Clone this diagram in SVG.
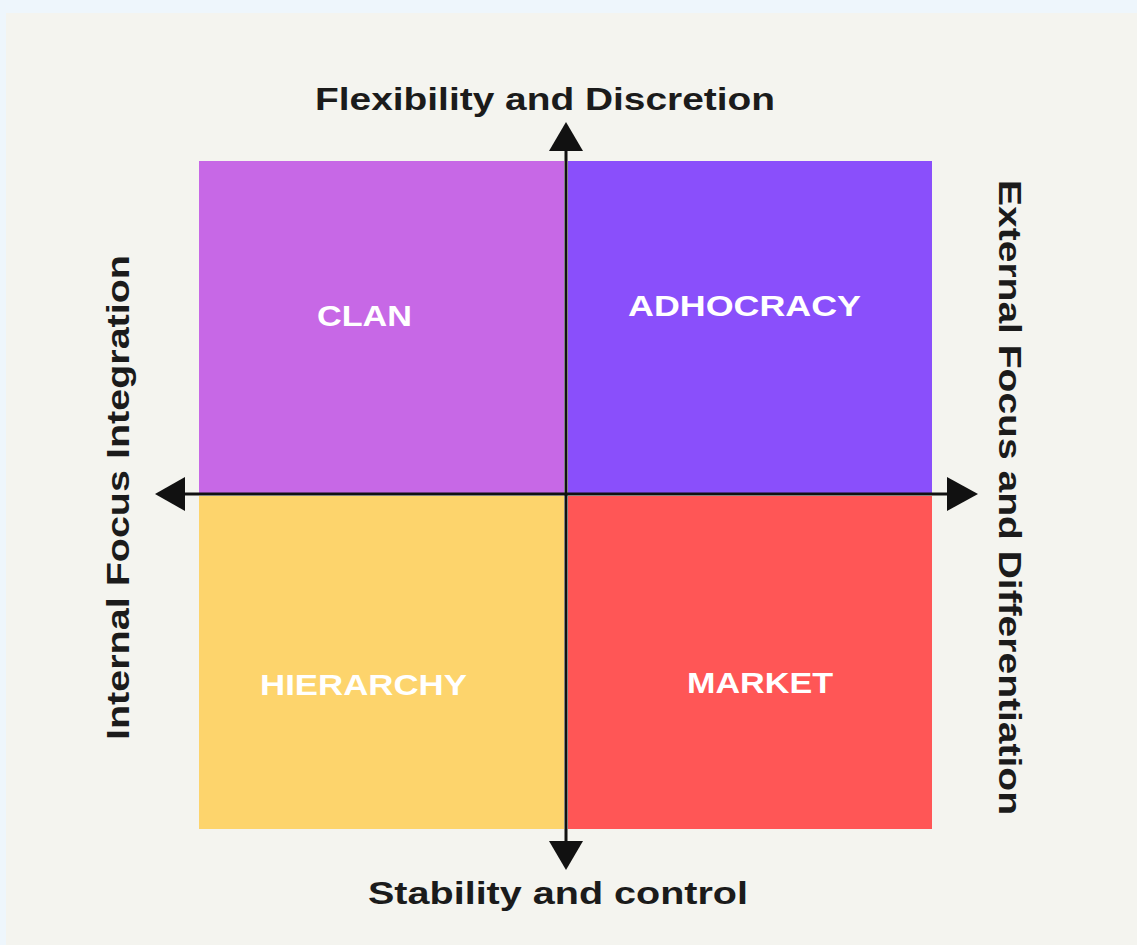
<svg xmlns="http://www.w3.org/2000/svg" width="1137" height="945" viewBox="0 0 1137 945">
  <defs>
    <style>
      .axis { font-family: "Liberation Sans", Arial, sans-serif; font-weight: bold; font-size: 32px; fill: #1b1b1b; }
      .quad { font-family: "Liberation Sans", Arial, sans-serif; font-weight: bold; font-size: 29px; fill: #ffffff; text-anchor: start; }
      .line { stroke: #111111; stroke-width: 3; fill: none; }
      .head { fill: #111111; }
    </style>
  </defs>
  <rect x="0" y="0" width="1137" height="945" fill="#EEF6FC"/>
  <rect x="6" y="13" width="1131" height="932" fill="#F4F4EF"/>

  <g id="clan">
    <rect x="199" y="161" width="365" height="333" fill="#C768E6"/>
    <text class="quad" x="317" y="326" textLength="95" lengthAdjust="spacingAndGlyphs">CLAN</text>
  </g>
  <g id="adhocracy">
    <rect x="568" y="161" width="364" height="333" fill="#8A4FFB"/>
    <text class="quad" x="628" y="316" textLength="233" lengthAdjust="spacingAndGlyphs">ADHOCRACY</text>
  </g>
  <g id="hierarchy">
    <rect x="199" y="496" width="365" height="333" fill="#FDD46C"/>
    <text class="quad" x="260" y="695" textLength="207" lengthAdjust="spacingAndGlyphs">HIERARCHY</text>
  </g>
  <g id="market">
    <rect x="568" y="496" width="364" height="333" fill="#FF5656"/>
    <text class="quad" x="687" y="693" textLength="146" lengthAdjust="spacingAndGlyphs">MARKET</text>
  </g>

  <g id="connectors">
    <line class="line" x1="566" y1="148" x2="566" y2="844"/>
    <line class="line" x1="183" y1="494" x2="949" y2="494"/>
    <polygon class="head" points="566,122 549,151 583,151"/>
    <polygon class="head" points="566,870 549,841 583,841"/>
    <polygon class="head" points="155,494 185,477 185,511"/>
    <polygon class="head" points="978,494 947,477 947,511"/>
  </g>

  <g id="labels">
    <text class="axis" x="315" y="110" textLength="460" lengthAdjust="spacingAndGlyphs">Flexibility and Discretion</text>
    <text class="axis" x="368" y="904" textLength="380" lengthAdjust="spacingAndGlyphs">Stability and control</text>
    <text class="axis" transform="translate(129,740) rotate(-90)" x="0" y="0" textLength="485" lengthAdjust="spacingAndGlyphs">Internal Focus Integration</text>
    <text class="axis" transform="translate(999,180) rotate(90)" x="0" y="0" textLength="635" lengthAdjust="spacingAndGlyphs">External Focus and Differentiation</text>
  </g>
</svg>
